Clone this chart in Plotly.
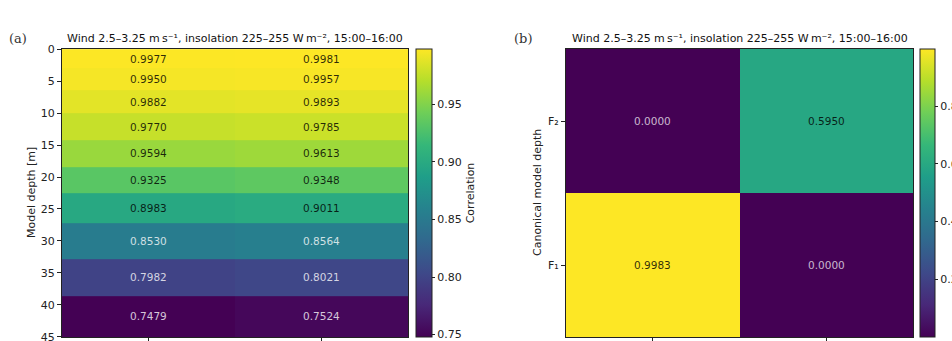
import plotly.graph_objects as go

# ---------------- data ----------------
depth_edges = [0, 3.0, 6.4, 10.0, 14.2, 18.4, 22.5, 27.2, 32.8, 38.6, 45]
corr_col1 = [0.9977, 0.9950, 0.9882, 0.9770, 0.9594, 0.9325, 0.8983, 0.8530, 0.7982, 0.7479]
corr_col2 = [0.9981, 0.9957, 0.9893, 0.9785, 0.9613, 0.9348, 0.9011, 0.8564, 0.8021, 0.7524]
depth_ticks = [0, 5, 10, 15, 20, 25, 30, 35, 40, 45]

canon_labels = ["F\u2081", "F\u2082"]
canon_col1 = [0.9983, 0.0000]
canon_col2 = [0.0000, 0.5950]

title_text = "Wind 2.5\u20133.25 m\u2009s\u207b\u00b9, insolation 225\u2013255 W\u2009m\u207b\u00b2, 15:00\u201316:00"

W, H = 952, 341
def px(x):
    return x / W
def py(y):
    return (H - y) / H

FONT = "DejaVu Sans"
fig = go.Figure()

z_left = [[a, b] for a, b in zip(corr_col1, corr_col2)]
fig.add_trace(go.Heatmap(
    z=z_left, x=[-0.5, 0.5, 1.5], y=depth_edges,
    colorscale="Viridis", zmin=min(corr_col1 + corr_col2), zmax=max(corr_col1 + corr_col2),
    xaxis="x", yaxis="y", hoverinfo="skip",
    colorbar=dict(
        x=px(416), xanchor="left", y=py(337), yanchor="bottom",
        len=288 / H, lenmode="fraction", thickness=16, thicknessmode="pixels",
        xpad=0, ypad=0, ticklabeloverflow="allow",
        outlinewidth=1, outlinecolor="#222",
        tickvals=[0.75, 0.80, 0.85, 0.90, 0.95], ticktext=["0.75", "0.80", "0.85", "0.90", "0.95"],
        ticks="outside", ticklen=3, tickcolor="#222",
        tickfont=dict(family=FONT, size=11, color="#222"),
        title=dict(text="Correlation", side="right", font=dict(family=FONT, size=11, color="#222")),
    ),
))

z_right = [[a, b] for a, b in zip(canon_col1, canon_col2)]
fig.add_trace(go.Heatmap(
    z=z_right, x=[0, 1], y=[0, 1],
    colorscale="Viridis", zmin=0, zmax=max(canon_col1 + canon_col2),
    xaxis="x2", yaxis="y2", hoverinfo="skip",
    colorbar=dict(
        x=px(920), xanchor="left", y=py(337), yanchor="bottom",
        len=288 / H, lenmode="fraction", thickness=15, thicknessmode="pixels",
        xpad=0, ypad=0, ticklabeloverflow="allow",
        outlinewidth=1, outlinecolor="#222",
        tickvals=[0.2, 0.4, 0.6, 0.8], ticktext=["0.2", "0.4", "0.6", "0.8"],
        ticks="outside", ticklen=3, tickcolor="#222",
        tickfont=dict(family=FONT, size=11, color="#222"),
    ),
))

annotations = []
lmin, lmax = min(corr_col1 + corr_col2), max(corr_col1 + corr_col2)
for i in range(len(corr_col1)):
    yc = (depth_edges[i] + depth_edges[i + 1]) / 2
    for j, v in enumerate([corr_col1[i], corr_col2[i]]):
        col = "rgba(0,0,0,0.82)" if v > (lmin + lmax) / 2 else "rgba(255,255,255,0.78)"
        annotations.append(dict(x=j, y=yc, xref="x", yref="y", text=f"{v:.4f}", showarrow=False,
                                font=dict(family=FONT, size=10.5, color=col)))
rmax = max(canon_col1 + canon_col2)
for i in range(len(canon_labels)):
    for j, v in enumerate([canon_col1[i], canon_col2[i]]):
        col = "rgba(0,0,0,0.82)" if v > rmax / 2 else "rgba(255,255,255,0.72)"
        annotations.append(dict(x=j, y=i, xref="x2", yref="y2", text=f"{v:.4f}", showarrow=False,
                                font=dict(family=FONT, size=10.5, color=col)))

annotations += [
    dict(x=px(235), y=py(38), xref="paper", yref="paper", text=title_text, showarrow=False,
         xanchor="center", yanchor="middle", font=dict(family=FONT, size=11, color="#111")),
    dict(x=px(739.5), y=py(38), xref="paper", yref="paper", text=title_text, showarrow=False,
         xanchor="center", yanchor="middle", font=dict(family=FONT, size=11, color="#111")),
    dict(x=px(18), y=py(38), xref="paper", yref="paper", text="(a)", showarrow=False,
         xanchor="center", yanchor="middle", font=dict(family="DejaVu Serif", size=13, color="#333")),
    dict(x=px(523), y=py(38), xref="paper", yref="paper", text="(b)", showarrow=False,
         xanchor="center", yanchor="middle", font=dict(family="DejaVu Serif", size=13, color="#333")),
    dict(x=px(32), y=py(193), xref="paper", yref="paper", text="Model depth [m]", showarrow=False,
         textangle=-90, xanchor="center", yanchor="middle", font=dict(family=FONT, size=11, color="#222")),
    dict(x=px(538), y=py(193), xref="paper", yref="paper", text="Canonical model depth", showarrow=False,
         textangle=-90, xanchor="center", yanchor="middle", font=dict(family=FONT, size=11, color="#222")),
]

axis_common = dict(showline=True, linecolor="#222", linewidth=1, mirror=True,
                   ticks="outside", ticklen=4, tickcolor="#222", showgrid=False, zeroline=False,
                   ticklabeloverflow="allow",
                   tickfont=dict(family=FONT, size=11, color="#222"))

fig.update_layout(
    width=W, height=H,
    margin=dict(l=0, r=0, t=0, b=0, autoexpand=False),
    paper_bgcolor="white", plot_bgcolor="white",
    showlegend=False,
    annotations=annotations,
    xaxis=dict(domain=[px(62), px(408)], range=[-0.5, 1.5], tickvals=[0, 1], ticktext=["", ""],
               anchor="y", **axis_common),
    yaxis=dict(domain=[py(337), py(49)], range=[45.02, -0.02], tickvals=depth_ticks,
               anchor="x", **axis_common),
    xaxis2=dict(domain=[px(566), px(913)], range=[-0.5, 1.5], tickvals=[0, 1], ticktext=["", ""],
                anchor="y2", **axis_common),
    yaxis2=dict(domain=[py(337), py(49)], range=[-0.5, 1.5], tickvals=[0, 1], ticktext=canon_labels,
                anchor="x2", **axis_common),
)

fig.write_html("out.html")
